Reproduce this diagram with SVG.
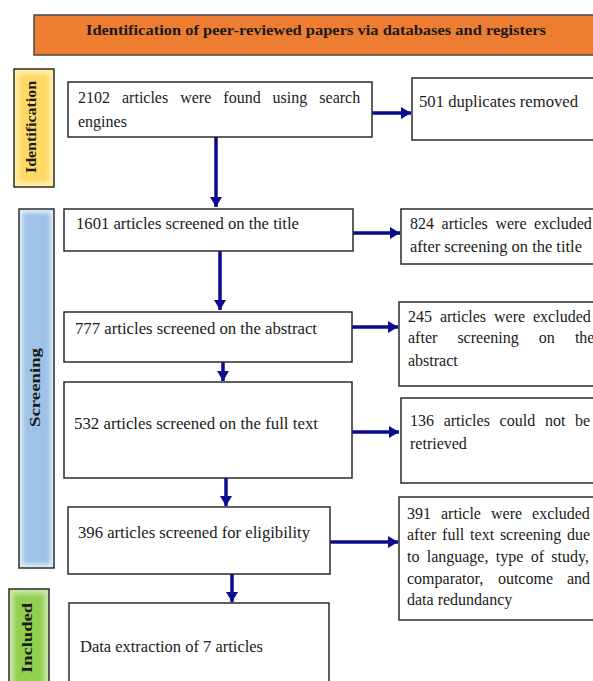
<svg xmlns="http://www.w3.org/2000/svg" width="593" height="681" viewBox="0 0 593 681">
<style>
.box{fill:#ffffff;stroke:#2b2b2b;stroke-width:1.5}
.t{font-family:"Liberation Serif","Times New Roman",serif;font-size:16px;fill:#1a1a1a}
.lb{font-family:"Liberation Serif","Times New Roman",serif;font-size:15px;font-weight:bold;fill:#1a1a1a}
.conn{stroke:#0b0b8f;stroke-width:3.5;fill:none;marker-end:url(#ah)}
</style>
<defs>
<marker id="ah" markerUnits="userSpaceOnUse" markerWidth="10" markerHeight="12" refX="10" refY="6" orient="auto">
<path d="M0,0 L10,6 L0,12 z" fill="#0b0b8f"/>
</marker>
<filter id="glow" x="-20%" y="-20%" width="140%" height="140%">
<feGaussianBlur stdDeviation="2"/>
</filter>
</defs>

<g id="title">
<rect x="34" y="15" width="570" height="40" fill="#ED7D31" stroke="#4a4a4a" stroke-width="1.5"/>
<text class="lb" x="86" y="35" font-size="14" textLength="460" lengthAdjust="spacingAndGlyphs">Identification of peer-reviewed papers via databases and registers</text>
</g>

<g id="label-identification">
<rect x="14" y="69" width="40" height="118" fill="#FFF0A8" stroke="#2b2b2b" stroke-width="1.5"/>
<rect x="19" y="74" width="30" height="108" fill="#FFD966" filter="url(#glow)"/>
<text class="lb" transform="translate(36,127) rotate(-90)" text-anchor="middle" textLength="92" lengthAdjust="spacingAndGlyphs">Identification</text>
</g>

<g id="label-screening">
<rect x="19" y="209" width="35" height="359" fill="#DEEBF7" stroke="#2b2b2b" stroke-width="1.5"/>
<rect x="23" y="213" width="27" height="351" fill="#9DC3E6" filter="url(#glow)"/>
<text class="lb" transform="translate(39.5,387.5) rotate(-90)" text-anchor="middle" textLength="79" lengthAdjust="spacingAndGlyphs">Screening</text>
</g>

<g id="label-included">
<rect x="9" y="589" width="40" height="100" fill="#C9E5A8" stroke="#2b2b2b" stroke-width="1.5"/>
<rect x="14" y="594" width="30" height="92" fill="#92D050" filter="url(#glow)"/>
<text class="lb" transform="translate(32,638) rotate(-90)" text-anchor="middle" textLength="70" lengthAdjust="spacingAndGlyphs">Included</text>
</g>

<g id="connectors">
<line class="conn" x1="372" y1="113" x2="411" y2="113"/>
<line class="conn" x1="216" y1="137" x2="216" y2="207"/>
<line class="conn" x1="353" y1="233" x2="400" y2="233"/>
<line class="conn" x1="220" y1="251" x2="220" y2="310"/>
<line class="conn" x1="352" y1="327" x2="398" y2="327"/>
<line class="conn" x1="223" y1="362" x2="223" y2="381"/>
<line class="conn" x1="352" y1="432" x2="399" y2="432"/>
<line class="conn" x1="226" y1="478" x2="226" y2="506"/>
<line class="conn" x1="330" y1="542" x2="398" y2="542"/>
<line class="conn" x1="232" y1="574" x2="232" y2="602"/>
</g>

<g id="n-found">
<rect class="box" x="68" y="82" width="304" height="55"/>
<text class="t" y="103"><tspan x="78">2102</tspan><tspan x="122">articles</tspan><tspan x="180.2">were</tspan><tspan x="223.3">found</tspan><tspan x="272.6">using</tspan><tspan x="319.3">search</tspan></text>
<text class="t" x="78" y="127">engines</text>
</g>

<g id="n-duplicates">
<rect class="box" x="412" y="78" width="190" height="62"/>
<text class="t" x="419" y="107" textLength="159" lengthAdjust="spacingAndGlyphs">501 duplicates removed</text>
</g>

<g id="n-title">
<rect class="box" x="64" y="209" width="289" height="42"/>
<text class="t" x="76" y="229" textLength="223" lengthAdjust="spacingAndGlyphs">1601 articles screened on the title</text>
</g>

<g id="n-excl-title">
<rect class="box" x="401" y="209" width="200" height="55"/>
<text class="t" y="229"><tspan x="410">824</tspan><tspan x="441.6">articles</tspan><tspan x="495.4">were</tspan><tspan x="534.1">excluded</tspan></text>
<text class="t" x="410" y="252" textLength="172" lengthAdjust="spacingAndGlyphs">after screening on the title</text>
</g>

<g id="n-abstract">
<rect class="box" x="64" y="312" width="288" height="50"/>
<text class="t" x="75" y="334" textLength="242" lengthAdjust="spacingAndGlyphs">777 articles screened on the abstract</text>
</g>

<g id="n-excl-abstract">
<rect class="box" x="399" y="302" width="200" height="84"/>
<text class="t" y="322"><tspan x="408">245</tspan><tspan x="439.9">articles</tspan><tspan x="494">were</tspan><tspan x="533">excluded</tspan></text>
<text class="t" y="343"><tspan x="408">after</tspan><tspan x="457.4">screening</tspan><tspan x="538.8">on</tspan><tspan x="574.9">the</tspan></text>
<text class="t" x="408" y="366">abstract</text>
</g>

<g id="n-fulltext">
<rect class="box" x="64" y="382" width="288" height="96"/>
<text class="t" x="74" y="429" textLength="244" lengthAdjust="spacingAndGlyphs">532 articles screened on the full text</text>
</g>

<g id="n-not-retrieved">
<rect class="box" x="401" y="398" width="200" height="85"/>
<text class="t" y="426"><tspan x="410">136</tspan><tspan x="443.7">articles</tspan><tspan x="499.6">could</tspan><tspan x="544.9">not</tspan><tspan x="575">be</tspan></text>
<text class="t" x="410" y="449">retrieved</text>
</g>

<g id="n-eligibility">
<rect class="box" x="68" y="507" width="262" height="67"/>
<text class="t" x="78" y="538" textLength="232" lengthAdjust="spacingAndGlyphs">396 articles screened for eligibility</text>
</g>

<g id="n-excl-fulltext">
<rect class="box" x="399" y="497" width="200" height="123"/>
<text class="t" y="519"><tspan x="407">391</tspan><tspan x="441">article</tspan><tspan x="491">were</tspan><tspan x="532.1">excluded</tspan></text>
<text class="t" y="540"><tspan x="407">after</tspan><tspan x="442.1">full</tspan><tspan x="470.1">text</tspan><tspan x="499.9">screening</tspan><tspan x="567">due</tspan></text>
<text class="t" y="562"><tspan x="407">to</tspan><tspan x="426.7">language,</tspan><tspan x="495.8">type</tspan><tspan x="530.7">of</tspan><tspan x="551.3">study,</tspan></text>
<text class="t" y="584"><tspan x="407">comparator,</tspan><tspan x="497.9">outcome</tspan><tspan x="567">and</tspan></text>
<text class="t" x="407" y="605">data redundancy</text>
</g>

<g id="n-included">
<rect class="box" x="69" y="603" width="260" height="90"/>
<text class="t" x="80" y="652" textLength="183" lengthAdjust="spacingAndGlyphs">Data extraction of 7 articles</text>
</g>
</svg>
